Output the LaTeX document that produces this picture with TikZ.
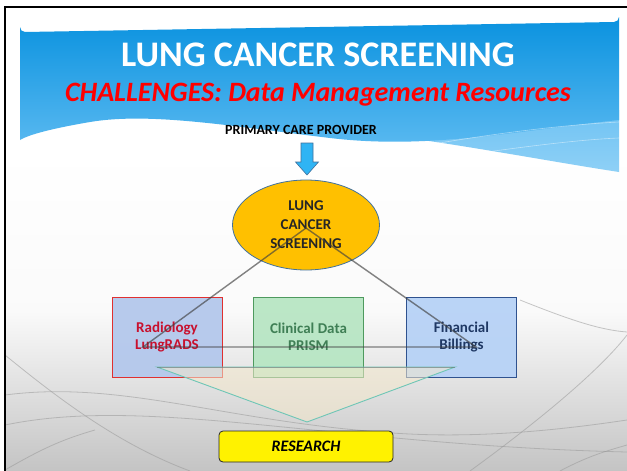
\documentclass[tikz,border=0pt]{standalone}
\usepackage{fontspec}
\setmainfont{Carlito}
\usetikzlibrary{shapes.geometric}
\definecolor{hdrtop}{HTML}{0A92DF}
\definecolor{hdrbot}{HTML}{5BBAF1}
\definecolor{hdrlight}{HTML}{8ED0F6}
\definecolor{subred}{HTML}{FF0000}
\definecolor{arrowblue}{HTML}{2FB4F4}
\definecolor{ovalfill}{HTML}{FFC000}
\definecolor{ovaledge}{HTML}{41719C}
\definecolor{radfill}{HTML}{B4C8EC}
\definecolor{radedge}{HTML}{E03030}
\definecolor{radtext}{HTML}{C8102E}
\definecolor{clinfill}{HTML}{B8E6C4}
\definecolor{clinedge}{HTML}{4E9A5E}
\definecolor{clintext}{HTML}{3F7F55}
\definecolor{finfill}{HTML}{B7D2F6}
\definecolor{finedge}{HTML}{2F528F}
\definecolor{fintext}{HTML}{1F3864}
\definecolor{funnelfill}{HTML}{F4E8CC}
\definecolor{funneledge}{HTML}{6EC6B6}
\definecolor{bggray}{HTML}{C4C4C4}
\tikzset{
  databox/.style={draw, line width=1pt, minimum width=110pt, minimum height=80pt,
    font=\fontsize{15}{17}\selectfont\bfseries, align=center, inner sep=0pt},
  linkline/.style={draw=black!75, line width=1.4pt, opacity=0.65},
  swirl/.style={draw=gray!80, line width=0.8pt, opacity=0.55},
}
\begin{document}
\begin{tikzpicture}[x=1pt,y=-1pt]
\useasboundingbox (0,0) rectangle (627,471);
% page background
\fill[white] (0,0) rectangle (627,471);
\shade[top color=white, bottom color=bggray, middle color=white!92!bggray]
  (5,150) rectangle (627,471);
\fill[white] (5,7) rectangle (627,150);
% faint background swirls
\draw[swirl] (5,425) .. controls (150,395) and (330,445) .. (627,452);
\draw[swirl] (5,395) .. controls (120,380) and (220,420) .. (380,432) .. controls (470,440) and (560,430) .. (627,420);
\draw[swirl] (5,355) .. controls (60,400) and (120,445) .. (190,471);
\draw[swirl] (470,471) .. controls (540,420) and (600,370) .. (627,335);
\draw[swirl] (5,470) .. controls (40,450) and (60,440) .. (95,430);
\draw[swirl] (520,300) .. controls (570,320) and (600,330) .. (627,332);
\draw[swirl] (560,471) .. controls (590,455) and (610,450) .. (627,445);
% title band with wavy lower edge
\shade[top color=hdrbot!60!hdrlight, bottom color=hdrlight]
  (619,110) -- (619,172) .. controls (540,160) and (440,140) .. (330,128)
  .. controls (430,122) and (540,112) .. (619,110) -- cycle;
\shade[top color=hdrtop, bottom color=hdrbot]
  (20,140) -- (20,27) arc[start angle=180, end angle=90, radius=5]
  -- (614,22) arc[start angle=90, end angle=0, radius=5]
  -- (619,120) .. controls (520,130) and (430,150) .. (330,138)
  .. controls (230,126) and (150,112) .. (90,122)
  .. controls (55,128) and (30,134) .. (20,140) -- cycle;
\draw[white, opacity=0.45, line width=0.6pt] (400,150) .. controls (480,135) and (560,125) .. (619,122);
\draw[white, opacity=0.45, line width=0.6pt] (430,160) .. controls (500,150) and (570,140) .. (619,138);
% slide frame
\draw[black, line width=2pt] (5,471) -- (5,7) -- (627,7);
% headings
\node[white, font=\fontsize{36}{40}\selectfont\bfseries] (title) at (318,55) {LUNG CANCER SCREENING};
\node[subred, font=\fontsize{28}{32}\selectfont\bfseries\itshape] (subtitle) at (318,95) {CHALLENGES: Data Management Resources};
\node[font=\fontsize{14}{16}\selectfont\bfseries] (pcp) at (301,130) {PRIMARY CARE PROVIDER};
% downward block arrow
\coordinate (arrtip) at (307,175);
\filldraw[fill=arrowblue, draw=ovaledge, line width=0.6pt]
  (301,143) -- (313,143) -- (313,162) -- (318.5,162) -- (arrtip) -- (295.5,162) -- (301,162) -- cycle;
% central oval
\node[ellipse, fill=ovalfill, draw=ovaledge, line width=0.8pt, minimum width=147pt, minimum height=90pt,
  font=\fontsize{15}{19}\selectfont\bfseries, text=black!85, align=center] (lcs) at (306,225)
  {LUNG\\CANCER\\SCREENING};
% data source boxes
\node[databox, fill=radfill, draw=radedge, text=radtext, fill opacity=0.95, text opacity=1] (rad) at (167,337) {Radiology\\LungRADS};
\node[databox, fill=clinfill, draw=clinedge, text=clintext, fill opacity=0.95, text opacity=1] (clin) at (308.5,337) {Clinical Data\\PRISM};
\node[databox, fill=finfill, draw=finedge, text=fintext, fill opacity=0.95, text opacity=1] (fin) at (461.5,337) {Financial\\Billings};
% linking triangle
\coordinate (apex) at (309,228);
\coordinate (lcorner) at (143,347);
\coordinate (rcorner) at (476,347);
\draw[linkline] (lcs.center |- apex) -- (lcorner) -- (rcorner) -- cycle;
% funnel toward research
\coordinate (fl) at (157,367);
\coordinate (fr) at (455,367);
\coordinate (ftip) at (307,422);
\filldraw[fill=funnelfill, fill opacity=0.55, draw=funneledge, line width=0.9pt] (fl) -- (fr) -- (ftip) -- cycle;
\draw[black!60, line width=0.8pt, opacity=0.5] (fl) -- (fr);
% research box
\node[draw=black!85, fill=yellow, rounded corners=4pt, line width=0.8pt, minimum width=174pt, minimum height=31pt,
  font=\fontsize{16}{18}\selectfont\bfseries\itshape] (res) at (306,446.5) {RESEARCH};
\end{tikzpicture}
\end{document}
